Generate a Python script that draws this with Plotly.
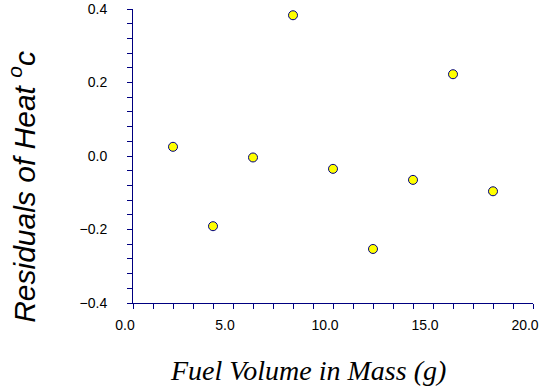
import plotly.graph_objects as go

fuel_mass = [2, 4, 6, 8, 10, 12, 14, 16, 18]
residuals = [0.025, -0.191, -0.004, 0.383, -0.035, -0.253, -0.065, 0.2225, -0.096]

x_title = "Fuel Volume in Mass (g)"
y_title = "Residuals of Heat <sup>o</sup>c"

NAVY = "#000080"

fig = go.Figure(
    go.Scatter(
        x=fuel_mass,
        y=residuals,
        mode="markers",
        marker=dict(size=9, color="#FFFF00", line=dict(color=NAVY, width=1)),
        hoverinfo="x+y",
        cliponaxis=False,
    )
)

axis_common = dict(
    showline=True,
    linecolor=NAVY,
    linewidth=1,
    showgrid=False,
    zeroline=False,
    ticks="outside",
    ticklen=5,
    tickcolor=NAVY,
    tickwidth=1,
    tickfont=dict(family="Liberation Sans, Arial", size=14, color="black"),
    mirror=False,
    automargin=False,
)

fig.update_layout(
    width=540,
    height=388,
    autosize=False,
    margin=dict(l=133, r=7, t=9, b=85, autoexpand=False),
    paper_bgcolor="white",
    plot_bgcolor="white",
    showlegend=False,
    xaxis=dict(
        range=[0, 20],
        dtick=5,
        tick0=0,
        tickformat=".1f",
        minor=dict(dtick=1, ticks="outside", ticklen=5, tickcolor=NAVY, tickwidth=1),
        ticklabelshift=-8,
        ticklabelstandoff=4,
        ticklabeloverflow="allow",
        **axis_common,
    ),
    yaxis=dict(
        range=[-0.4, 0.4],
        dtick=0.2,
        tick0=0,
        tickformat=".1f",
        minor=dict(dtick=0.04, ticks="outside", ticklen=5, tickcolor=NAVY, tickwidth=1),
        ticklabelstandoff=17,
        ticklabeloverflow="allow",
        **axis_common,
    ),
    annotations=[
        dict(
            text="<i>" + y_title + "</i>",
            xref="paper", yref="paper",
            x=-0.2775, y=0.395,
            xanchor="center", yanchor="middle",
            textangle=-90,
            showarrow=False,
            font=dict(family="Liberation Sans, Arial", size=30, color="black"),
        ),
        dict(
            text="<i>" + x_title + "</i>",
            xref="paper", yref="paper",
            x=0.4375, y=-0.228,
            xanchor="center", yanchor="middle",
            showarrow=False,
            font=dict(family="Liberation Serif, Times New Roman", size=28, color="black"),
        ),
    ],
)

fig.write_html(
    "out.html",
    config={"displayModeBar": False},
    post_script="document.body.style.margin='0';document.body.style.overflow='hidden';",
)
